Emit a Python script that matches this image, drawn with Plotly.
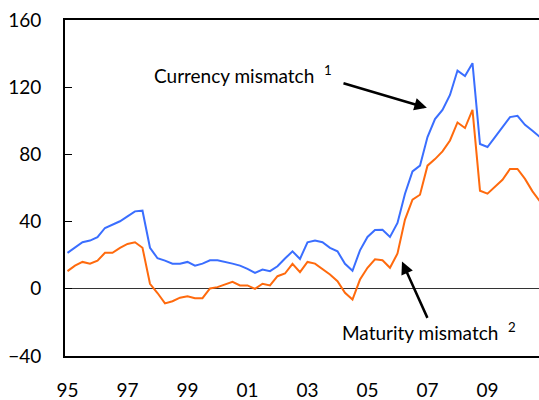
import plotly.graph_objects as go

start_year = 1995
n_quarters = 64
quarters = [start_year + i / 4 for i in range(n_quarters)]

currency_mismatch = [21.4, 24.7, 27.7, 28.7, 30.7, 36.2, 38.2, 40.2, 43.1, 46.1, 46.5, 24.4,
                     18.2, 16.8, 14.9, 14.9, 16.0, 13.8, 15.0, 17.0, 17.0, 16.2, 15.0, 13.8,
                     11.9, 9.5, 11.5, 10.5, 13.4, 18.0, 22.3, 17.8, 27.7, 28.7, 27.7, 24.4,
                     22.3, 14.9, 10.7, 22.9, 30.9, 35.0, 35.2, 30.9, 39.2, 56.6, 69.9, 73.3,
                     90.3, 101.0, 106.5, 115.4, 129.9, 126.7, 134.3, 86.2, 84.4, 90.3, 96.3,
                     102.2, 103.0, 97.6, 94.1, 90.3]
maturity_mismatch = [10.5, 13.8, 16.0, 14.9, 16.8, 21.4, 21.4, 24.4, 26.7, 27.7, 24.4, 3.0,
                     -2.5, -8.7, -7.4, -5.3, -4.4, -5.6, -5.6, 0.2, 1.0, 2.6, 4.2, 2.0,
                     2.0, 0.0, 3.0, 2.0, 7.5, 9.1, 14.9, 9.9, 16.0, 15.0, 11.9, 8.5,
                     4.5, -2.4, -6.4, 5.5, 12.5, 17.6, 17.0, 12.5, 21.0, 41.2, 53.1, 56.0,
                     73.3, 77.2, 81.8, 88.3, 99.0, 95.7, 106.5, 58.4, 56.6, 60.6, 64.9,
                     71.3, 71.3, 65.4, 58.0, 52.0]

x_tick_vals = [1995, 1997, 1999, 2001, 2003, 2005, 2007, 2009]
x_tick_text = ["95", "97", "99", "01", "03", "05", "07", "09"]
y_tick_vals = [-40, 0, 40, 80, 120, 160]

BLUE = "#3A6EFF"
ORANGE = "#FF6A0D"
FONT = "Lato"

fig = go.Figure()
fig.add_trace(go.Scatter(x=quarters, y=currency_mismatch, mode="lines",
                         line=dict(color=BLUE, width=2), name="Currency mismatch"))
fig.add_trace(go.Scatter(x=quarters, y=maturity_mismatch, mode="lines",
                         line=dict(color=ORANGE, width=2), name="Maturity mismatch"))

fig.add_annotation(x=1997.82, y=127.3, xref="x", yref="y",
                   text="Currency mismatch  <sup>1</sup>", showarrow=False,
                   xanchor="left", yanchor="middle",
                   font=dict(family=FONT, size=19, color="black"))
fig.add_annotation(x=2006.98, y=107.7, ax=2004.15, ay=122.6,
                   xref="x", yref="y", axref="x", ayref="y",
                   text="", showarrow=True, arrowhead=2, arrowsize=1,
                   arrowwidth=2.5, arrowcolor="black")

fig.add_annotation(x=2004.08, y=-25.4, xref="x", yref="y",
                   text="Maturity mismatch  <sup>2</sup>", showarrow=False,
                   xanchor="left", yanchor="middle",
                   font=dict(family=FONT, size=19, color="black"))
fig.add_annotation(x=2006.15, y=16.2, ax=2007.02, ay=-18.2,
                   xref="x", yref="y", axref="x", ayref="y",
                   text="", showarrow=True, arrowhead=2, arrowsize=1,
                   arrowwidth=2.5, arrowcolor="black")

fig.update_layout(
    width=539, height=400,
    margin=dict(l=65, r=0, t=20, b=44),
    paper_bgcolor="white", plot_bgcolor="white",
    showlegend=False,
    font=dict(family=FONT, size=19, color="black"),
    xaxis=dict(range=[1994.917, 2010.717], tickvals=x_tick_vals, ticktext=x_tick_text,
               showgrid=False, zeroline=False, showline=True, linecolor="black",
               linewidth=2, mirror=True, ticks="", ticklabelstandoff=16,
               automargin=False),
    yaxis=dict(range=[-40, 160], tickvals=y_tick_vals, showgrid=False,
               zeroline=True, zerolinecolor="#333333", zerolinewidth=1,
               showline=True, linecolor="black", linewidth=2,
               ticks="inside", ticklen=7, tickwidth=1, tickcolor="black",
               ticklabelstandoff=18, automargin=False),
)

fig.write_html("out.html", config={"displayModeBar": False},
               post_script="document.body.style.margin='0';")
